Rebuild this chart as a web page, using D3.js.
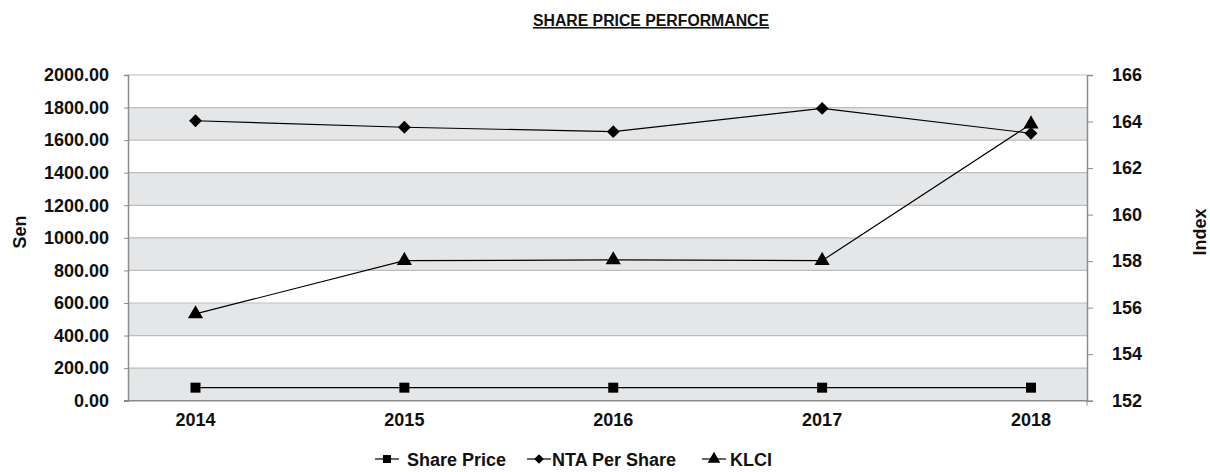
<!DOCTYPE html>
<html>
<head>
<meta charset="utf-8">
<script src="https://cdn.jsdelivr.net/npm/d3@7"></script>
<style>
  body { margin: 0; background: #fff; }
  svg text { font-family: "Liberation Sans", Arial, sans-serif; font-weight: bold; fill: #111; }
</style>
</head>
<body>
<svg id="stage" width="1210" height="472"></svg>
<script>
// chart data
const years = ["2014", "2015", "2016", "2017", "2018"];
const sharePrice = [80, 80, 80, 80, 80];
const ntaPerShare = [1719, 1679, 1652, 1795, 1642];
const klci = [155.73, 158.02, 158.05, 158.02, 163.89];
const leftTicks = [0, 200, 400, 600, 800, 1000, 1200, 1400, 1600, 1800, 2000];
const rightTicks = [152, 154, 156, 158, 160, 162, 164, 166];
const seriesNames = ["Share Price", "NTA Per Share", "KLCI"];

const svg = d3.select("#stage");

// plot area
const plotLeft = 128, plotRight = 1087, plotTop = 75, plotBottom = 400.7;

const x = d3.scalePoint().domain(years).range([plotLeft + 67.5, plotRight - 56]);
const yL = d3.scaleLinear().domain([0, 2000]).range([plotBottom, plotTop]);
const yR = d3.scaleLinear().domain([152, 166]).range([plotBottom, plotTop]);

// title
svg.append("text")
  .attr("x", 651)
  .attr("y", 26)
  .attr("text-anchor", "middle")
  .attr("font-size", 15.8)
  .attr("text-decoration", "underline")
  .text("SHARE PRICE PERFORMANCE");

// alternating bands
const bands = leftTicks.slice(0, -1).filter((_, i) => i % 2 === 0);
svg.append("g")
  .selectAll("rect")
  .data(bands)
  .enter()
  .append("rect")
  .attr("x", plotLeft)
  .attr("width", plotRight - plotLeft)
  .attr("y", (d) => yL(d + 200))
  .attr("height", (d) => yL(d) - yL(d + 200))
  .attr("fill", "#e5e6e8");

// gridlines
svg.append("g")
  .selectAll("line")
  .data(leftTicks.slice(1))
  .enter()
  .append("line")
  .attr("x1", plotLeft)
  .attr("x2", plotRight)
  .attr("y1", (d) => yL(d))
  .attr("y2", (d) => yL(d))
  .attr("stroke", "#bdbdbd")
  .attr("stroke-width", 1.2);

// axes
const axisColor = "#8c8c8c";
const leftAxis = svg.append("g")
  .attr("transform", `translate(${plotLeft},0)`)
  .call(d3.axisLeft(yL).tickValues(leftTicks).tickSize(4).tickPadding(15)
    .tickFormat((d) => d.toFixed(2)));
leftAxis.selectAll("text").attr("font-size", 18).attr("fill", "#111");

const rightAxis = svg.append("g")
  .attr("transform", `translate(${plotRight},0)`)
  .call(d3.axisRight(yR).tickValues(rightTicks).tickSize(6).tickPadding(19));
rightAxis.selectAll("text").attr("font-size", 18).attr("fill", "#111");

[leftAxis, rightAxis].forEach((g) => {
  g.select(".domain").attr("stroke", axisColor).attr("stroke-width", 1.5);
  g.selectAll(".tick line").attr("stroke", axisColor);
});

// bottom axis line with end tick
svg.append("line")
  .attr("x1", plotLeft - 4).attr("x2", plotRight)
  .attr("y1", plotBottom).attr("y2", plotBottom)
  .attr("stroke", axisColor).attr("stroke-width", 1.5);
svg.append("line")
  .attr("x1", plotRight).attr("x2", plotRight)
  .attr("y1", plotBottom).attr("y2", plotBottom + 5)
  .attr("stroke", axisColor);

// category labels
svg.append("g")
  .selectAll("text")
  .data(years)
  .enter()
  .append("text")
  .attr("x", (d) => x(d))
  .attr("y", 426)
  .attr("text-anchor", "middle")
  .attr("font-size", 18)
  .text((d) => d);

// axis titles
svg.append("text")
  .attr("transform", "translate(26,232) rotate(-90)")
  .attr("text-anchor", "middle")
  .attr("font-size", 18)
  .text("Sen");
svg.append("text")
  .attr("transform", "translate(1206,232) rotate(-90)")
  .attr("text-anchor", "middle")
  .attr("font-size", 18)
  .text("Index");

// series
const symbolTypes = [d3.symbolSquare, d3.symbolDiamond2, d3.symbolTriangle];
const series = [
  { values: sharePrice, y: yL, symbol: d3.symbol().type(symbolTypes[0]).size(100) },
  { values: ntaPerShare, y: yL, symbol: d3.symbol().type(symbolTypes[1]).size(105) },
  { values: klci, y: yR, symbol: d3.symbol().type(symbolTypes[2]).size(100) },
];

const line = (s) => d3.line()
  .x((_, i) => x(years[i]))
  .y((d) => s.y(d));

series.forEach((s) => {
  const g = svg.append("g");
  g.append("path")
    .attr("d", line(s)(s.values))
    .attr("fill", "none")
    .attr("stroke", "#000")
    .attr("stroke-width", 1.2);
  g.selectAll("path.marker")
    .data(s.values)
    .enter()
    .append("path")
    .attr("class", "marker")
    .attr("d", s.symbol)
    .attr("transform", (d, i) => `translate(${x(years[i])},${s.y(d)})`)
    .attr("fill", "#000");
});

// legend
const legendItems = [
  { name: seriesNames[0], mx: 387, tx: 407, size: 64 },
  { name: seriesNames[1], mx: 539, tx: 552, size: 60 },
  { name: seriesNames[2], mx: 714, tx: 730, size: 70 },
];
const legend = svg.append("g");
legendItems.forEach((item, i) => {
  legend.append("line")
    .attr("x1", item.mx - 12).attr("x2", item.mx + 12)
    .attr("y1", 459).attr("y2", 459)
    .attr("stroke", "#000").attr("stroke-width", 1.2);
  legend.append("path")
    .attr("d", d3.symbol().type(symbolTypes[i]).size(item.size))
    .attr("transform", `translate(${item.mx},459)`)
    .attr("fill", "#000");
  legend.append("text")
    .attr("x", item.tx)
    .attr("y", 466)
    .attr("font-size", 18)
    .text(item.name);
});
</script>
</body>
</html>
